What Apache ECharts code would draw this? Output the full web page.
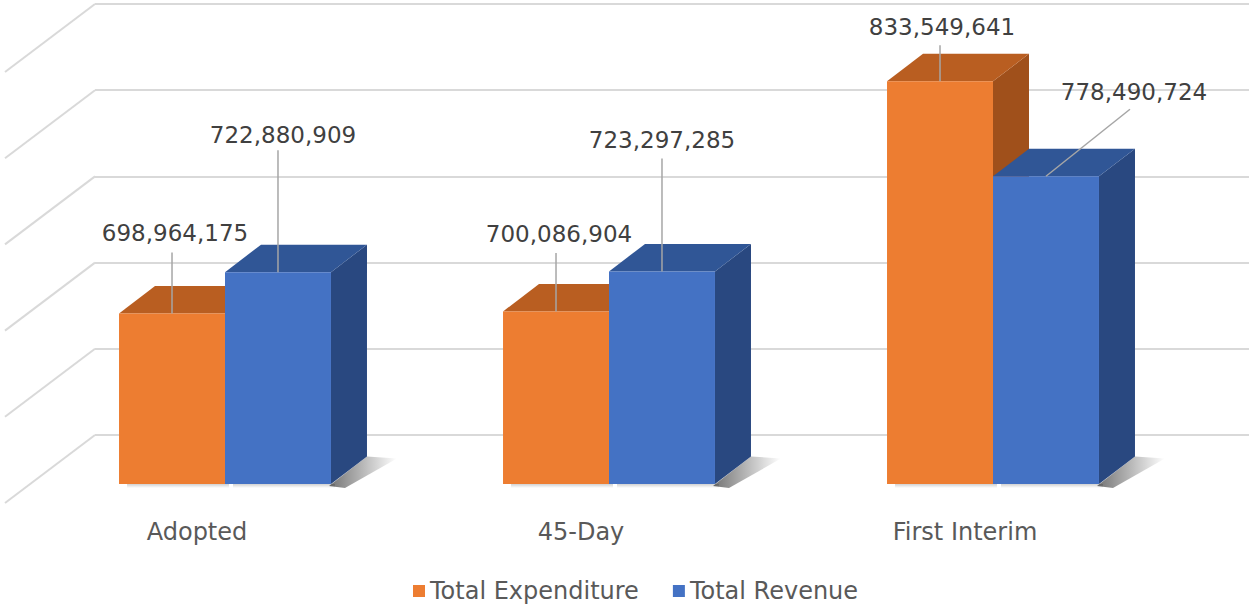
<!DOCTYPE html>
<html><head><meta charset="utf-8">
<script src="https://cdn.jsdelivr.net/npm/echarts@6/dist/echarts.min.js"></script>
<style>html,body{margin:0;padding:0;background:#fff}#c{width:1249px;height:605px}</style>
</head><body><div id="c"></div>
<script>
// ---- data ----
const categories = ['Adopted', '45-Day', 'First Interim'];
const totalExpenditure = [698964175, 700086904, 833549641];
const totalRevenue = [722880909, 723297285, 778490724];
const valueTicks = [600000000, 650000000, 700000000, 750000000, 800000000, 850000000];
const seriesNames = ['Total Expenditure', 'Total Revenue'];

// ---- layout / style (not data) ----
const AXIS_MIN = 600000000, AXIS_MAX = 850000000, AXIS_STEP = 50000000;
const DEPTH = [36, -27.5];
const BAR_FRAC = 0.276;
const WALL_DEPTH = [-90, 68];
const labelOffsets = [[[3, -80], [3, -77.5], [2, -54]], [[5, -137], [0, -131.4], [88, -84]]];
const leaderEnds = [[[0, -61], [0, -58.5], [0, -36]], [[0, -122], [0, -113], [84, -67]]];
const palettes = [
  { front: '#ED7D31', top: '#B95E21', side: '#A0501B' },
  { front: '#4472C4', top: '#305696', side: '#294880' }
];
const FONT = '"DejaVu Sans", sans-serif';

function barRenderer(si) {
  return function (params, api) {
    const i = params.dataIndex;
    const cat = api.value(0), v = api.value(1);
    const pTop = api.coord([cat, v]);
    const pBase = api.coord([cat, AXIS_MIN]);
    const w = api.size([1, 0])[0] * BAR_FRAC;
    const x0 = si === 0 ? pTop[0] - w : pTop[0];
    const x1 = x0 + w, yT = pTop[1], yB = pBase[1];
    const dx = DEPTH[0], dy = DEPTH[1];
    const pal = palettes[si];
    const cx = (x0 + x1) / 2;
    const lo = labelOffsets[si][i], le = leaderEnds[si][i];
    const shadowFill = new echarts.graphic.LinearGradient(0, 0, 1, 0, [
      { offset: 0, color: 'rgba(0,0,0,0.55)' },
      { offset: 0.55, color: 'rgba(0,0,0,0.25)' },
      { offset: 1, color: 'rgba(0,0,0,0)' }
    ]);
    const underFill = new echarts.graphic.LinearGradient(0, 0, 0, 1, [
      { offset: 0, color: 'rgba(0,0,0,0.18)' },
      { offset: 1, color: 'rgba(0,0,0,0)' }
    ]);
    const children = [
      { type: 'rect', shape: { x: x0 + 8, y: yB, width: w - 4, height: 4 }, style: { fill: underFill } }
    ];
    if (si === 1) {
      children.push({ type: 'polygon', shape: { points: [[x1 - 2, yB + 2], [x1 + dx, yB + dy], [x1 + dx + 30, yB + dy + 2], [x1 + 14, yB + 4]] },
        style: { fill: shadowFill } });
    }
    children.push(
      { type: 'polygon', shape: { points: [[x1, yT], [x1 + dx, yT + dy], [x1 + dx, yB + dy], [x1, yB]] }, style: { fill: pal.side } },
      { type: 'polygon', shape: { points: [[x0, yT], [x0 + dx, yT + dy], [x1 + dx, yT + dy], [x1, yT]] }, style: { fill: pal.top } },
      { type: 'rect', shape: { x: x0, y: yT, width: w, height: yB - yT }, style: { fill: pal.front } },
      { type: 'line', shape: { x1: cx, y1: yT, x2: cx + le[0], y2: yT + le[1] }, style: { stroke: '#A6A6A6', lineWidth: 1.5 } },
      { type: 'text', x: cx + lo[0], y: yT + lo[1],
        style: { text: Number(v).toLocaleString('en-US'), fill: '#404040', fontSize: 23, fontFamily: FONT, align: 'center', verticalAlign: 'middle' } }
    );
    return { type: 'group', children: children };
  };
}

const chart = echarts.init(document.getElementById('c'), null, { renderer: 'svg' });
chart.setOption({
  animation: false,
  backgroundColor: '#fff',
  grid: [
    { left: 33, right: 64, top: 53, bottom: 121 },      // front plane of bars
    { left: 95, right: 0, top: 4, bottom: 170 },         // back wall
    { left: 5, right: 92, bottom: 102, height: 10 }      // floor front (category labels)
  ],
  xAxis: [
    { type: 'category', gridIndex: 0, data: categories, show: false },
    { type: 'value', gridIndex: 1, min: 0, max: 1, show: false },
    { type: 'category', gridIndex: 2, data: categories, axisLine: { show: false }, axisTick: { show: false },
      axisLabel: { fontSize: 24, color: '#595959', fontFamily: FONT, margin: 17 } }
  ],
  yAxis: [
    { type: 'value', gridIndex: 0, min: AXIS_MIN, max: AXIS_MAX, interval: AXIS_STEP, show: false },
    { type: 'value', gridIndex: 1, min: AXIS_MIN, max: AXIS_MAX, interval: AXIS_STEP,
      axisLabel: { show: false }, axisLine: { show: false }, axisTick: { show: false },
      splitLine: { show: true, lineStyle: { color: '#D9D9D9', width: 2 } } },
    { type: 'value', gridIndex: 2, show: false }
  ],
  legend: {
    data: seriesNames, left: 408, top: 574, icon: 'rect', itemWidth: 12, itemHeight: 12, itemGap: 34,
    textStyle: { fontSize: 24, color: '#595959', fontFamily: FONT }
  },
  series: [
    { type: 'custom', xAxisIndex: 1, yAxisIndex: 1, silent: true, z: 1,
      data: valueTicks.map(v => [0, v]),
      renderItem: function (params, api) {
        const p = api.coord([0, api.value(1)]);
        return { type: 'line', shape: { x1: p[0], y1: p[1], x2: p[0] + WALL_DEPTH[0], y2: p[1] + WALL_DEPTH[1] },
          style: { stroke: '#D9D9D9', lineWidth: 2 } };
      } },
    { type: 'custom', name: seriesNames[0], xAxisIndex: 0, yAxisIndex: 0, z: 3,
      itemStyle: { color: palettes[0].front },
      data: totalExpenditure.map((v, i) => [i, v]), renderItem: barRenderer(0) },
    { type: 'custom', name: seriesNames[1], xAxisIndex: 0, yAxisIndex: 0, z: 3,
      itemStyle: { color: palettes[1].front },
      data: totalRevenue.map((v, i) => [i, v]), renderItem: barRenderer(1) }
  ]
});
</script>
</body></html>
